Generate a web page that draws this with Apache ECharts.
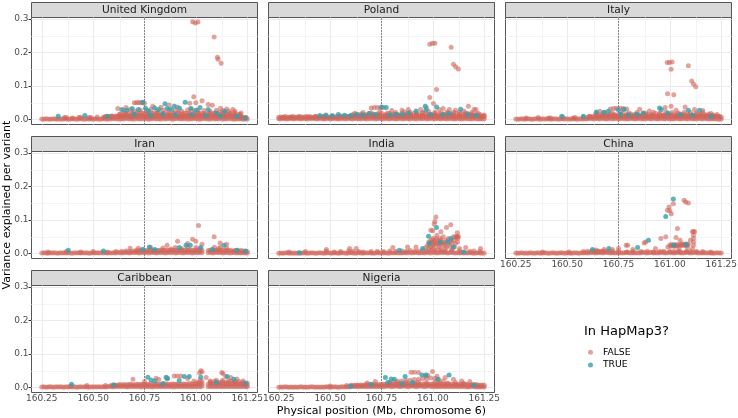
<!DOCTYPE html>
<html>
<head>
<meta charset="utf-8">
<script src="https://cdn.jsdelivr.net/npm/echarts@6/dist/echarts.min.js"></script>
<style>html,body{margin:0;padding:0;background:#fff;}#c{width:738px;height:418px;}</style>
</head>
<body>
<div id="c"></div>
<script>
// ---------------- data ----------------
const panelNames = ['United Kingdom','Poland','Italy','Iran','India','China','Caribbean','Nigeria'];
const xTicks = [160.25,160.5,160.75,161,161.25];
const xMinor = [160.375,160.625,160.875,161.125];
const yTicks = [0,0.1,0.2,0.3];
const yMinor = [0.05,0.15,0.25];
const markerPos = 160.75;
const _ = null;

// Dense band of near-zero variants (same variant positions in all populations).
// Fine grid of positions every 0.01 Mb; coarse grid every 0.02 Mb.
const posFine = [160.25,160.26,160.27,160.28,160.29,160.30,160.31,160.32,160.33,160.34,
160.35,160.36,160.37,160.38,160.39,160.40,160.41,160.42,160.43,160.44,
160.45,160.46,160.47,160.48,160.49,160.50,160.51,160.52,160.53,160.54,
160.55,160.56,160.57,160.58,160.59,160.60,160.61,160.62,160.63,160.64,
160.65,160.66,160.67,160.68,160.69,160.70,160.71,160.72,160.73,160.74,
160.75,160.76,160.77,160.78,160.79,160.80,160.81,160.82,160.83,160.84,
160.85,160.86,160.87,160.88,160.89,160.90,160.91,160.92,160.93,160.94,
160.95,160.96,160.97,160.98,160.99,161.00,161.01,161.02,161.03,161.04,
161.05,161.06,161.07,161.08,161.09,161.10,161.11,161.12,161.13,161.14,
161.15,161.16,161.17,161.18,161.19,161.20,161.21,161.22,161.23,161.24,161.25];
const posCoarse = [160.25,160.27,160.29,160.31,160.33,160.35,160.37,160.39,160.41,160.43,
160.45,160.47,160.49,160.51,160.53,160.55,160.57,160.59,160.61,160.63,
160.65,160.67,160.69,160.71,160.73,160.75,160.77,160.79,160.81,160.83,
160.85,160.87,160.89,160.91,160.93,160.95,160.97,160.99,161.01,161.03,
161.05,161.07,161.09,161.11,161.13,161.15,161.17,161.19,161.21,161.23,161.25];

// band values in units of 0.001 (variance explained x 1000); Low/Mid on posFine, Up on posCoarse
const ukLow = [2,1,3,2,1,2,3,1,2,2, 1,3,2,1,2,3,2,1,2,3, 2,1,3,2,2,1,3,2,1,2, 3,2,1,3,2,4,2,3,1,3, 2,4,3,2,3,1,4,2,3,2, 4,3,1,2,4,3,2,3,1,4, 2,3,4,2,1,3,4,2,3,2, 4,1,3,2,4,3,2,1,3,4, 2,3,1,4,2,3,2,4,1,3, 2,4,3,2,1,3,2,3,1,2, 2];
const ukMid = [_,_,_,_,_,_,_,_,_,_, _,_,6,_,_,_,_,_,6,_, _,_,_,_,6,_,_,_,_,_, 7,8,9,9,10,9,11,10,9,11, 10,12,11,9,10,12,11,10,12,11, 9,11,12,10,11,9,12,11,10,12, 11,10,12,9,11,12,10,11,9,12, 10,11,12,10,9,11,12,10,11,12, 11,9,12,10,11,12,9,11,10,12, 11,10,12,9,11,10,9,8,7,6, _];
const ukUp = [_,_,_,_,_,_,_,_,_,_, _,_,_,_,_,_,_,_,_,16, 18,17,19,16,20,18,17,19,18,16, 19,17,18,20,16,19,18,17,20,18, 17,19,18,16,19,17,18,16,15,_, _];
const polLow = [3,2,4,3,2,3,4,2,3,4, 3,2,4,3,2,4,3,4,3,2, 4,3,2,3,4,2,3,4,3,2, 3,4,2,3,4,3,2,4,3,3, 2,4,3,2,4,3,4,2,3,4, 3,2,4,3,2,4,3,2,3,4, 2,3,4,3,2,4,3,2,4,3, 3,4,2,3,4,3,2,4,3,2, 4,3,2,4,3,3,2,4,3,2, 3,4,2,3,2,4,3,2,3,2, 3];
const polMid = [7,8,7,9,8,7,8,9,7,8, 9,8,7,9,8,9,7,8,9,8, 7,9,8,9,8,7,9,8,9,8, 9,8,9,10,9,10,9,11,10,9, 11,10,9,11,10,11,10,9,11,10, 10,11,9,10,11,10,11,9,10,11, 10,11,10,9,11,10,11,10,11,9, 11,10,11,10,9,11,10,11,10,11, 10,11,9,11,10,11,10,11,10,9, 11,10,11,10,9,10,11,10,9,10, 9];
const polUp = [_,_,_,_,_,_,_,_,_,_, _,_,_,_,_,_,_,_,15,16, 17,15,18,16,17,19,16,18,17,15, 18,16,17,19,16,18,17,15,18,16, 17,18,16,19,17,16,18,17,16,15, 14];
const itaLow = [2,1,2,3,1,2,3,2,1,2, 3,2,1,3,2,2,3,1,2,3, 2,1,3,2,2,3,1,2,3,2, 1,3,2,2,3,2,4,3,2,4, 3,2,4,3,2,3,4,2,3,4, 2,3,4,2,3,2,4,3,2,3, 4,2,3,2,4,3,2,4,3,2, 3,4,2,3,4,2,3,2,4,3, 2,3,4,2,3,4,2,3,2,4, 3,2,4,3,2,3,2,3,2,1, 2];
const itaMid = [_,_,_,_,_,_,_,_,_,_, _,_,_,_,_,_,5,_,_,_, _,_,_,_,_,_,_,_,5,_, _,_,_,_,_,8,9,8,10,9, 10,9,11,10,9,11,10,9,10,11, 9,10,11,9,10,11,10,9,11,10, 11,10,9,10,11,9,10,11,10,9, 10,11,10,9,11,10,9,11,10,11, 9,10,11,10,9,11,10,11,9,10, 11,10,9,11,10,9,10,11,10,9, 8];
const itaUp = [_,_,_,_,_,_,_,_,_,_, _,_,_,_,_,_,_,_,_,_, 15,16,14,17,15,16,18,15,17,16, 14,17,16,15,18,16,14,17,15,16, 17,15,16,14,17,16,15,17,14,15, _];
const iranLow = [2,3,2,1,3,2,3,2,1,3, 2,3,2,3,2,1,3,2,3,2, 3,2,3,1,2,3,2,3,2,3, 2,3,2,3,2,3,2,4,3,2, 3,4,3,2,4,3,4,2,3,4, 3,4,2,3,4,3,2,4,3,4, 2,3,4,3,4,2,3,4,3,2, 4,3,4,2,3,4,3,4,3,_, _,3,4,2,3,4,3,4,2,3, 4,3,2,4,3,2,3,2,3,2, 2];
const iranMid = [_,_,_,5,_,_,_,_,_,_, _,_,6,_,_,_,_,_,_,5, _,_,_,_,_,6,_,_,_,_, _,_,5,_,_,_,6,_,_,7, _,8,_,7,_,8,9,8,10,9, 8,10,9,11,9,8,10,9,11,10, 9,11,10,9,10,11,9,10,11,10, 10,9,11,10,9,11,10,9,10,_, _,9,10,11,10,9,11,10,9,10, 9,10,9,8,9,10,8,9,8,7, 6];
const iranUp = [];
const indLow = [1,2,1,2,3,1,2,1,2,1, 2,1,3,2,1,2,3,2,1,2, 3,2,1,2,3,2,1,3,2,1, 2,3,2,1,2,3,2,1,2,3, 2,1,3,2,3,2,1,2,3,2, 3,2,3,1,2,3,2,3,2,3, 2,3,2,4,3,2,3,4,2,3, 3,2,4,3,2,4,3,2,3,4, 3,4,2,3,4,3,2,3,2,3, 2,3,2,3,2,1,2,3,2,1, 2];
const indMid = [_,_,_,_,_,5,_,_,_,_, _,_,_,6,_,_,_,_,_,_, _,_,_,7,_,_,_,5,_,_, 6,_,_,_,8,_,7,_,_,6, _,5,_,_,_,6,_,_,7,_, _,6,_,_,8,_,_,7,_,_, 8,_,6,_,9,_,7,_,8,_, 9,_,8,_,10,_,9,_,_,8, _,7,_,_,9,_,_,_,8,_, _,_,_,7,_,8,_,_,6,_, _];
const indUp = [];
const chnLow = [2,1,2,3,1,2,1,3,2,1, 2,3,1,2,3,2,1,2,3,2, 1,2,3,2,1,3,2,1,2,3, 2,1,3,2,3,2,3,4,3,2, 3,4,2,3,4,3,2,3,2,3, 2,3,2,3,4,3,2,3,2,3, 2,3,4,3,2,3,4,2,3,2, 3,4,3,2,3,4,3,2,3,4, 3,2,3,4,3,2,3,4,3,2, 3,2,3,2,3,2,1,2,3,2, 2];
const chnMid = [_,_,_,_,_,_,_,_,_,_, _,_,_,5,_,_,_,_,_,_, _,_,_,_,_,_,5,_,_,_, _,_,_,6,_,7,_,8,7,6, 8,7,6,8,_,7,_,6,_,_, 6,_,_,_,5,_,_,6,_,_, _,6,_,_,7,_,_,5,_,_, 6,_,7,_,_,6,_,7,_,6, 7,_,_,6,_,7,_,_,6,_, _,6,_,_,_,5,_,_,_,_, _];
const chnUp = [];
const carLow = [2,3,1,2,3,2,1,3,2,3, 2,1,3,2,3,2,3,1,2,3, 2,3,2,1,3,2,3,2,3,2, 3,2,3,4,3,2,4,3,4,3, 4,3,2,4,3,4,3,4,2,3, 4,3,4,3,2,4,3,4,3,4, 3,4,3,4,2,3,4,3,4,3, 4,3,4,2,4,3,4,3,4,_, _,3,4,3,4,3,4,3,4,3, 4,3,4,3,4,3,4,3,4,3, 3];
const carMid = [_,_,_,_,_,_,_,_,_,_, _,_,_,_,5,_,_,_,_,_, _,_,6,_,_,_,_,_,_,_, _,6,_,_,7,8,7,8,9,8, 9,8,9,10,9,8,10,9,10,9, 10,9,10,11,9,10,11,10,9,10, 11,10,9,10,11,10,11,9,10,11, 10,11,12,10,11,12,11,12,11,_, _,11,12,11,12,11,12,11,12,11, 12,11,12,11,12,11,12,11,10,9, 8];
const carUp = [_,_,_,_,_,_,_,_,_,_, _,_,_,_,_,_,_,_,_,_, _,_,_,_,_,_,_,_,_,_, _,_,_,_,_,_,_,_,16,18, _,17,19,16,18,17,19,16,18,15, 14];
const nigLow = [1,2,1,3,2,1,2,1,2,1, 2,3,1,2,1,2,3,2,1,2, 1,2,1,3,2,1,2,3,2,1, 2,3,2,3,2,3,4,3,4,3, 4,3,4,3,4,3,4,3,4,3, 4,3,4,5,4,3,4,5,4,3, 4,5,4,3,4,5,4,3,4,5, 4,3,4,5,4,3,4,3,4,3, 4,3,4,3,4,3,4,3,4,3, 4,3,2,3,4,3,2,3,2,3, 2];
const nigMid = [_,_,_,_,_,_,_,_,_,_, _,_,_,_,_,_,_,_,_,_, _,_,_,_,_,5,_,_,_,_, _,_,_,6,_,7,6,7,8,7, 8,7,8,9,8,9,8,9,8,9, 9,10,9,8,9,10,9,10,9,10, 10,9,10,11,10,9,10,11,10,9, 10,11,10,9,10,11,10,9,10,11, 10,9,10,11,10,9,10,9,10,9, 9,10,9,8,9,8,9,8,7,8, 7];
const nigUp = [_,_,_,_,_,_,_,_,_,_, _,_,_,_,_,_,_,_,_,_, _,_,_,_,_,_,_,13,_,14, _,15,_,14,16,_,15,_,16,15, _,14,_,15,_,13,_,_,_,_, _];

// other (sparser) variants not in HapMap3 (FALSE), [position Mb, variance]
const ukFalse = [[160.36,0.006],[160.40,0.005],[160.44,0.007],[160.48,0.006],[160.52,0.008],[160.56,0.009],[160.59,0.011],[160.62,0.01],[160.645,0.012],[160.67,0.011],[160.695,0.01],[160.72,0.012],[160.745,0.011],[160.77,0.01],[160.795,0.012],[160.82,0.011],[160.845,0.01],[160.87,0.012],[160.895,0.011],[160.92,0.01],[160.945,0.012],[160.97,0.011],[160.995,0.013],[161.02,0.012],[161.045,0.01],[161.07,0.012],[161.095,0.011],[161.12,0.012],[161.145,0.01],[161.17,0.011],[161.195,0.01],[161.22,0.008],[161.245,0.006],
[160.63,0.017],[160.66,0.02],[160.69,0.018],[160.715,0.021],[160.74,0.019],[160.765,0.02],[160.79,0.018],[160.815,0.021],[160.84,0.019],[160.865,0.02],[160.89,0.018],[160.915,0.021],[160.94,0.02],[160.965,0.019],[160.99,0.021],[161.015,0.02],[161.04,0.018],[161.065,0.02],[161.09,0.019],[161.115,0.021],[161.14,0.02],[161.165,0.019],[161.19,0.02],[161.215,0.016],
[160.65,0.027],[160.68,0.03],[160.70,0.026],[160.73,0.029],[160.76,0.027],[160.78,0.03],[160.81,0.026],[160.84,0.028],[160.87,0.03],[160.90,0.027],[160.93,0.026],[160.96,0.029],[160.98,0.031],[161.01,0.028],[161.04,0.027],[161.07,0.025],[161.10,0.028],[161.13,0.027],[161.16,0.026],[161.19,0.025],
[160.70,0.05],[160.71,0.05],[160.72,0.051],[160.73,0.05],[160.74,0.05],[160.75,0.049],
[160.62,0.033],[160.66,0.036],[160.79,0.04],[160.83,0.037],[160.87,0.044],[160.91,0.038],[160.97,0.049],[160.99,0.068],[161.0,0.05],[161.03,0.056],[161.06,0.045],[161.08,0.043],[161.12,0.034],[161.15,0.032],[161.18,0.03],[161.22,0.02],
[160.984,0.292],[160.997,0.288],[161.01,0.291],[161.089,0.246],[161.105,0.186],[161.108,0.18],[161.123,0.168]];
const polFalse = [[160.27,0.006],[160.31,0.007],[160.35,0.008],[160.39,0.007],[160.43,0.009],[160.47,0.01],[160.51,0.009],[160.55,0.011],[160.59,0.01],[160.62,0.012],[160.65,0.013],[160.68,0.012],[160.71,0.014],[160.74,0.013],[160.77,0.012],[160.80,0.014],[160.83,0.013],[160.86,0.012],[160.89,0.014],[160.92,0.013],[160.95,0.012],[160.98,0.014],[161.01,0.013],[161.04,0.012],[161.07,0.014],[161.10,0.013],[161.13,0.012],[161.16,0.014],[161.19,0.013],[161.22,0.012],[161.245,0.01],
[160.62,0.019],[160.66,0.021],[160.70,0.02],[160.74,0.022],[160.78,0.02],[160.82,0.021],[160.86,0.023],[160.89,0.022],[160.92,0.02],[160.95,0.021],[160.98,0.024],[161.01,0.022],[161.04,0.02],[161.07,0.023],[161.10,0.021],[161.13,0.022],[161.16,0.02],[161.19,0.021],[161.22,0.019],
[160.70,0.035],[160.715,0.036],[160.73,0.036],[160.745,0.035],[160.76,0.036],
[160.80,0.027],[160.85,0.028],[160.88,0.03],[160.94,0.03],[160.985,0.066],[161.003,0.048],[160.97,0.035],[161.03,0.03],[161.05,0.033],[161.08,0.03],[161.11,0.028],[161.173,0.04],[161.2,0.03],[161.21,0.03],[161.15,0.026],[161.018,0.09],
[160.985,0.225],[160.998,0.228],[161.01,0.228],[161.089,0.216],[161.1,0.165],[161.111,0.158],[161.124,0.151]];
const itaFalse = [[160.30,0.005],[160.36,0.006],[160.42,0.005],[160.48,0.007],[160.54,0.006],[160.58,0.008],[160.61,0.01],[160.64,0.012],[160.67,0.011],[160.70,0.013],[160.73,0.012],[160.76,0.011],[160.79,0.013],[160.82,0.012],[160.85,0.011],[160.88,0.013],[160.91,0.012],[160.94,0.011],[160.97,0.013],[161.0,0.012],[161.03,0.011],[161.06,0.013],[161.09,0.012],[161.12,0.011],[161.15,0.013],[161.18,0.012],[161.21,0.011],[161.24,0.009],
[160.64,0.019],[160.68,0.021],[160.72,0.02],[160.76,0.022],[160.80,0.02],[160.84,0.021],[160.88,0.02],[160.92,0.022],[160.95,0.02],[160.98,0.023],[161.01,0.021],[161.04,0.02],[161.07,0.022],[161.10,0.021],[161.13,0.02],[161.16,0.021],[161.20,0.018],
[160.71,0.032],[160.725,0.033],[160.74,0.034],[160.76,0.034],[160.775,0.033],[160.79,0.032],
[160.853,0.031],[160.977,0.036],[161.006,0.04],[161.074,0.038],[160.90,0.026],[161.03,0.028],[161.12,0.03],[161.16,0.027],[160.66,0.025],
[160.987,0.17],[160.998,0.17],[161.011,0.172],[161.006,0.15],[161.09,0.161],[161.106,0.115],[161.115,0.106],[161.126,0.098],[160.989,0.077],[161.019,0.074]];
const iranFalse = [[160.72,0.016],[160.78,0.018],[160.84,0.017],[160.90,0.018],[160.96,0.019],[161.0,0.018],[161.09,0.019],[161.12,0.018],[161.15,0.016],[160.88,0.014],[160.93,0.015],[161.02,0.015],[161.11,0.015],
[160.911,0.037],[160.984,0.043],[161.0,0.037],[160.96,0.03],[161.013,0.084],[161.089,0.05],[161.118,0.032],[161.15,0.028],[160.68,0.016],[160.86,0.025],[161.03,0.028]];
const indFalse = [[160.482,0.012],[160.595,0.015],[160.627,0.015],[160.805,0.018],[160.877,0.02],[160.918,0.02],[161.16,0.018],[161.232,0.015],[161.13,0.015],
[160.975,0.025],[160.985,0.03],[160.995,0.035],[161.005,0.04],[161.015,0.045],[161.025,0.04],[161.035,0.035],[161.045,0.03],[161.055,0.025],[160.99,0.02],[161.01,0.025],[161.03,0.02],[161.0,0.015],[161.02,0.012],[161.04,0.015],[161.06,0.015],[161.07,0.02],[161.08,0.025],[161.09,0.03],[161.10,0.04],[161.11,0.05],[161.115,0.048],[161.12,0.045],[161.105,0.02],[161.095,0.015],[160.965,0.018],[161.005,0.03],[161.035,0.045],[161.065,0.04],[161.075,0.045],
[160.98,0.035],[160.99,0.04],[161.0,0.045],[161.01,0.035],[161.02,0.03],[161.03,0.028],[161.04,0.04],[161.05,0.035],[161.0,0.025],[160.98,0.015],[161.06,0.03],[161.08,0.035],[161.09,0.04],[161.10,0.05],[161.12,0.052],[161.125,0.05],[161.11,0.03],[161.12,0.035],
[161.015,0.109],[161.01,0.096],[161.006,0.088],[160.99,0.07],[161.0,0.068],[161.039,0.065],[161.066,0.078],[161.087,0.086],[161.119,0.062],[161.02,0.055],[161.05,0.05]];
const chnFalse = [[160.64,0.011],[160.68,0.012],[160.72,0.012],
[161.0,0.026],[161.01,0.027],[161.02,0.026],[161.03,0.027],[161.04,0.026],[161.05,0.028],[161.06,0.029],[161.07,0.028],[161.08,0.029],[161.09,0.028],[160.99,0.02],[161.045,0.018],[161.085,0.018],
[161.005,0.022],[161.015,0.023],[161.025,0.022],[161.035,0.023],[161.055,0.024],[161.065,0.025],[161.075,0.024],[161.085,0.025],
[161.11,0.065],[161.115,0.066],[161.12,0.065],[161.115,0.055],[161.115,0.045],[161.115,0.035],[161.115,0.025],[161.11,0.015],
[160.787,0.025],[160.795,0.025],[160.875,0.032],[160.882,0.035],[160.956,0.045],[160.98,0.05],[161.03,0.048],[161.037,0.075],[161.05,0.04],[161.1,0.04],[160.75,0.015],[160.82,0.012],[160.93,0.015],
[161.017,0.149],[161.069,0.159],[161.077,0.154],[161.09,0.151],[160.996,0.139],[160.988,0.129],[161.0,0.128],[161.007,0.119]];
const carFalse = [[160.99,0.02],[161.02,0.022],[161.07,0.02],[161.10,0.022],[161.13,0.021],[161.16,0.02],[161.19,0.018],
[161.024,0.05],[161.03,0.047],[161.018,0.044],[161.126,0.045],[161.132,0.042],[161.145,0.033],[160.694,0.025],[160.806,0.028],[160.82,0.024],[160.895,0.035],[160.91,0.035],[160.927,0.035],[160.86,0.026],[160.96,0.027],[161.05,0.03],[161.17,0.03],[161.2,0.026],[161.23,0.02],[160.75,0.018]];
const nigFalse = [[160.79,0.016],[160.81,0.018],[160.83,0.019],[160.85,0.02],[160.87,0.021],[160.89,0.022],[160.91,0.024],[160.93,0.025],[160.95,0.026],[160.97,0.028],[160.99,0.029],[161.01,0.027],[161.03,0.024],[161.05,0.02],
[160.894,0.046],[160.91,0.046],[160.93,0.045],[160.966,0.035],[160.975,0.037],[160.998,0.048],[161.02,0.034],[161.06,0.03],[161.1,0.025],[161.14,0.02],[161.18,0.018],[160.72,0.018],[160.68,0.014]];

// variants in HapMap3 (TRUE)
const ukTrue = [[160.33,0.01],[160.46,0.012],[160.57,0.01],[160.64,0.03],[160.665,0.028],[160.69,0.033],[160.72,0.03],[160.742,0.052],[160.755,0.034],[160.77,0.026],[160.80,0.035],[160.82,0.03],[160.85,0.047],[160.86,0.033],[160.88,0.03],[160.895,0.04],[160.92,0.034],[160.948,0.052],[160.975,0.033],[161.0,0.028],[161.02,0.036],[161.06,0.03],[161.1,0.02],[161.14,0.025],[161.2,0.01],[161.24,0.005],[160.78,0.012],[160.9,0.014],[160.98,0.015],[161.05,0.012],[161.12,0.01],[160.70,0.015],[160.84,0.016]];
const polTrue = [[160.45,0.012],[160.48,0.014],[160.51,0.012],[160.54,0.015],[160.57,0.013],[160.60,0.012],[160.63,0.015],[160.66,0.014],[160.69,0.018],[160.75,0.038],[160.773,0.036],[160.72,0.015],[160.79,0.014],[160.82,0.016],[160.85,0.015],[160.88,0.02],[160.918,0.026],[160.963,0.04],[160.966,0.028],[161.018,0.038],[160.99,0.015],[161.05,0.015],[161.08,0.018],[161.135,0.031],[161.17,0.015],[161.21,0.012]];
const itaTrue = [[160.474,0.01],[160.579,0.01],[160.643,0.023],[160.68,0.022],[160.70,0.025],[160.748,0.03],[160.777,0.03],[160.76,0.015],[160.80,0.014],[160.84,0.016],[160.87,0.02],[160.958,0.03],[160.95,0.035],[160.99,0.02],[161.05,0.015],[161.09,0.028],[161.144,0.028],[161.11,0.014],[161.2,0.01]];
const iranTrue = [[160.379,0.01],[160.55,0.008],[160.742,0.013],[160.774,0.02],[160.80,0.012],[160.919,0.018],[160.952,0.025],[160.973,0.025],[161.024,0.018],[161.08,0.012],[161.137,0.025],[161.2,0.01],[161.242,0.008]];
const indTrue = [[160.35,0.003],[160.837,0.01],[160.95,0.015],[161.018,0.078],[160.979,0.052],[161.087,0.045],[161.071,0.035],[160.982,0.03],[161.035,0.033],[161.1,0.02],[161.15,0.005]];
const chnTrue = [[160.623,0.012],[160.703,0.015],[160.843,0.018],[160.896,0.04],[160.98,0.111],[161.017,0.163],[161.02,0.025],[161.08,0.027]];
const carTrue = [[160.395,0.01],[160.60,0.008],[160.766,0.031],[160.782,0.023],[160.80,0.02],[160.855,0.031],[160.862,0.028],[160.919,0.021],[160.944,0.033],[160.968,0.033],[161.024,0.031],[161.153,0.033],[161.185,0.025],[161.242,0.013],[160.84,0.012],[161.1,0.015]];
const nigTrue = [[160.769,0.03],[160.78,0.015],[160.797,0.026],[160.813,0.025],[160.865,0.033],[160.947,0.038],[160.966,0.038],[161.023,0.025],[161.079,0.038],[160.85,0.012],[160.70,0.01],[160.60,0.004],[161.2,0.008],[160.9,0.015]];

const lows = [ukLow,polLow,itaLow,iranLow,indLow,chnLow,carLow,nigLow];
const mids = [ukMid,polMid,itaMid,iranMid,indMid,chnMid,carMid,nigMid];
const ups = [ukUp,polUp,itaUp,iranUp,indUp,chnUp,carUp,nigUp];
const falseSets = [ukFalse,polFalse,itaFalse,iranFalse,indFalse,chnFalse,carFalse,nigFalse];
const trueSets = [ukTrue,polTrue,itaTrue,iranTrue,indTrue,chnTrue,carTrue,nigTrue];

// ---------------- layout / style ----------------
const FONT = 'DejaVu Sans';
const colLeft = [31.5, 268.5, 505.5];
const stripTop = [2.5, 136.5, 270.5];
const PW = 226, PH = 107, SH = 15;
const RED = '#D0645A', TEAL = '#35A0AB';
const BORDER = '#555555';

function addBand(out, pos, vals) {
  pos.forEach((x, k) => { const v = vals[k]; if (v != null) out.push([x, v / 1000]); });
}

const chart = echarts.init(document.getElementById('c'), null, {renderer:'canvas'});

const grids = [], xAxes = [], yAxes = [], series = [], graphics = [];
panelNames.forEach((name, i) => {
  const col = i % 3, row = Math.floor(i / 3);
  const left = colLeft[col], top = stripTop[row] + SH;
  const showX = (row === 2) || (i === 5);
  const showY = col === 0;
  grids.push({left: left, top: top, width: PW, height: PH, containLabel: false, outerBoundsMode: 'none',
    show: true, backgroundColor: '#fff', borderColor: BORDER, borderWidth: 1});
  xAxes.push({gridIndex: i, type: 'value', min: 160.2, max: 161.3,
    splitLine: {show: false}, axisLine: {show: false},
    axisTick: {show: showX, customValues: xTicks, length: 3, lineStyle: {color: '#333'}},
    axisLabel: {show: showX, customValues: xTicks, formatter: v => Number(v).toFixed(2), margin: 2,
      fontSize: 9, fontFamily: FONT, color: '#4D4D4D'}});
  yAxes.push({gridIndex: i, type: 'value', min: -0.0145, max: 0.3045,
    splitLine: {show: false}, axisLine: {show: false},
    axisTick: {show: showY, customValues: yTicks, length: 3, lineStyle: {color: '#333'}},
    axisLabel: {show: showY, customValues: yTicks, formatter: v => Number(v).toFixed(1), margin: 3,
      fontSize: 9, fontFamily: FONT, color: '#4D4D4D'}});
  const major = {color: '#EBEBEB', width: 1, type: 'solid'};
  const minor = {color: '#F4F4F4', width: 1, type: 'solid'};
  const ml = [];
  yMinor.forEach(v => ml.push({yAxis: v, lineStyle: minor}));
  xMinor.forEach(v => ml.push({xAxis: v, lineStyle: minor}));
  yTicks.forEach(v => ml.push({yAxis: v, lineStyle: major}));
  xTicks.forEach(v => ml.push({xAxis: v, lineStyle: major}));
  ml.push({xAxis: markerPos, lineStyle: {color: '#222', width: 1, type: [1, 2]}});
  series.push({type: 'scatter', name: 'grid' + i, xAxisIndex: i, yAxisIndex: i, data: [], silent: true, z: 1,
    markLine: {silent: true, z: 1, animation: false, symbol: ['none', 'none'], label: {show: false},
      emphasis: {disabled: true}, data: ml}});
  const fdata = [];
  addBand(fdata, posFine, lows[i]);
  addBand(fdata, posFine, mids[i]);
  addBand(fdata, posCoarse, ups[i]);
  falseSets[i].forEach(p => fdata.push(p));
  series.push({type: 'scatter', name: 'FALSE', xAxisIndex: i, yAxisIndex: i, data: fdata, z: 2,
    symbolSize: 5, itemStyle: {color: RED, opacity: 0.6}, emphasis: {disabled: true}});
  series.push({type: 'scatter', name: 'TRUE', xAxisIndex: i, yAxisIndex: i, data: trueSets[i], z: 3,
    symbolSize: 5, itemStyle: {color: TEAL, opacity: 0.8}, emphasis: {disabled: true}});
  graphics.push({type: 'rect', shape: {x: left, y: stripTop[row], width: PW, height: SH},
    style: {fill: '#D9D9D9', stroke: BORDER, lineWidth: 1}, silent: true});
  graphics.push({type: 'text', x: left + PW / 2, y: stripTop[row] + SH / 2 + 0.5,
    style: {text: name, fontSize: 10.6, fontFamily: FONT, fill: '#1A1A1A', align: 'center', verticalAlign: 'middle'}, silent: true});
});

graphics.push({type: 'text', x: 381.5, y: 411.5,
  style: {text: 'Physical position (Mb, chromosome 6)', fontSize: 11, fontFamily: FONT, fill: '#000', align: 'center', verticalAlign: 'middle'}});
graphics.push({type: 'text', x: 7.5, y: 205, rotation: Math.PI / 2,
  style: {text: 'Variance explained per variant', fontSize: 11, fontFamily: FONT, fill: '#000', align: 'center', verticalAlign: 'middle'}});
graphics.push({type: 'text', x: 584, y: 332,
  style: {text: 'In HapMap3?', fontSize: 13, fontFamily: FONT, fill: '#000', align: 'left', verticalAlign: 'middle'}});

chart.setOption({
  animation: false,
  backgroundColor: '#fff',
  grid: grids, xAxis: xAxes, yAxis: yAxes, series: series,
  legend: {data: ['FALSE', 'TRUE'], orient: 'vertical', left: 588, top: 346, padding: 0, itemGap: 0,
    itemWidth: 15, itemHeight: 5, icon: 'circle', selectedMode: false,
    textStyle: {fontSize: 9.2, fontFamily: FONT, color: '#000', lineHeight: 12.6}},
  graphic: {elements: graphics}
});
</script>
</body>
</html>
